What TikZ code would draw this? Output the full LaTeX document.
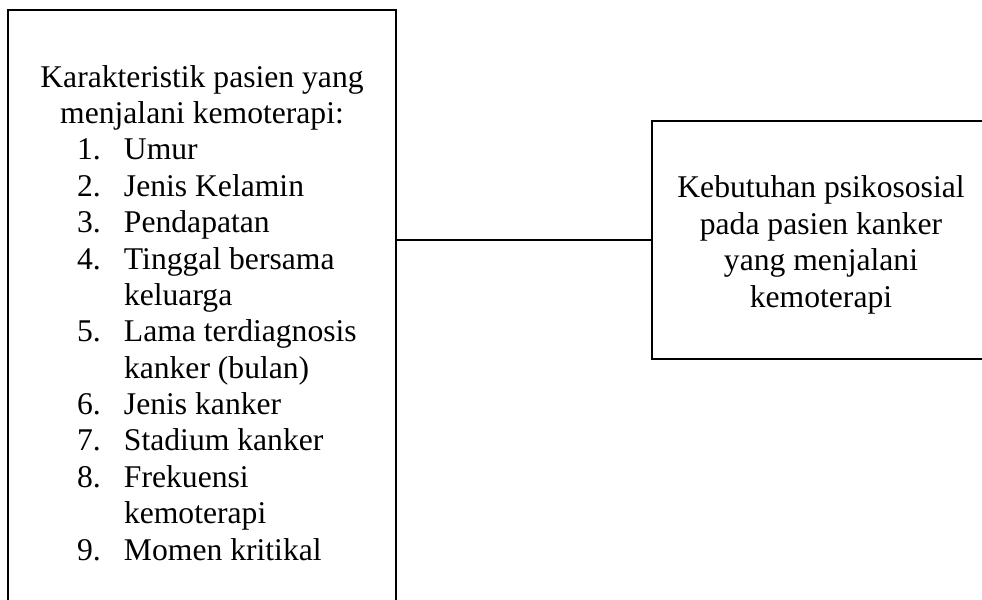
\documentclass[tikz,border=0pt]{standalone}
\usepackage{fontspec}
\setmainfont{Liberation Serif}
\usetikzlibrary{calc}

\newcommand{\butir}[2]{\makebox[6.6cm][l]{\hspace{0.8cm}\makebox[0.94cm][l]{#1}#2}}

\begin{document}
\begin{tikzpicture}[x=0.02cm,y=-0.02cm,
    kotak/.style={draw,line width=0.7pt,inner sep=0pt},
    isi/.style={font=\fontsize{18}{20.7}\selectfont,inner sep=0pt,align=center,anchor=base}]
  \useasboundingbox (0,0) rectangle (982,599);
  \clip (0,0) rectangle (982,599);
  % kotak kiri dan kanan
  \node[kotak,minimum width=7.76cm,minimum height=12.2cm] (karakter) at (202,315) {};
  \node[kotak,minimum width=6.76cm,minimum height=4.76cm] (kebutuhan) at (821,240) {};
  \node[isi] (teksKiri) at (202,560) {Karakteristik pasien yang\\
    menjalani kemoterapi:\\
    \butir{1.}{Umur}\\
    \butir{2.}{Jenis Kelamin}\\
    \butir{3.}{Pendapatan}\\
    \butir{4.}{Tinggal bersama}\\
    \butir{}{keluarga}\\
    \butir{5.}{Lama terdiagnosis}\\
    \butir{}{kanker (bulan)}\\
    \butir{6.}{Jenis kanker}\\
    \butir{7.}{Stadium kanker}\\
    \butir{8.}{Frekuensi}\\
    \butir{}{kemoterapi}\\
    \butir{9.}{Momen kritikal}};
  \node[isi] (teksKanan) at (821,307) {Kebutuhan psikososial\\
    pada pasien kanker\\
    yang menjalani\\
    kemoterapi};
  \draw[line width=1.2pt] (karakter.east |- kebutuhan.west) -- (kebutuhan.west);
\end{tikzpicture}
\end{document}
